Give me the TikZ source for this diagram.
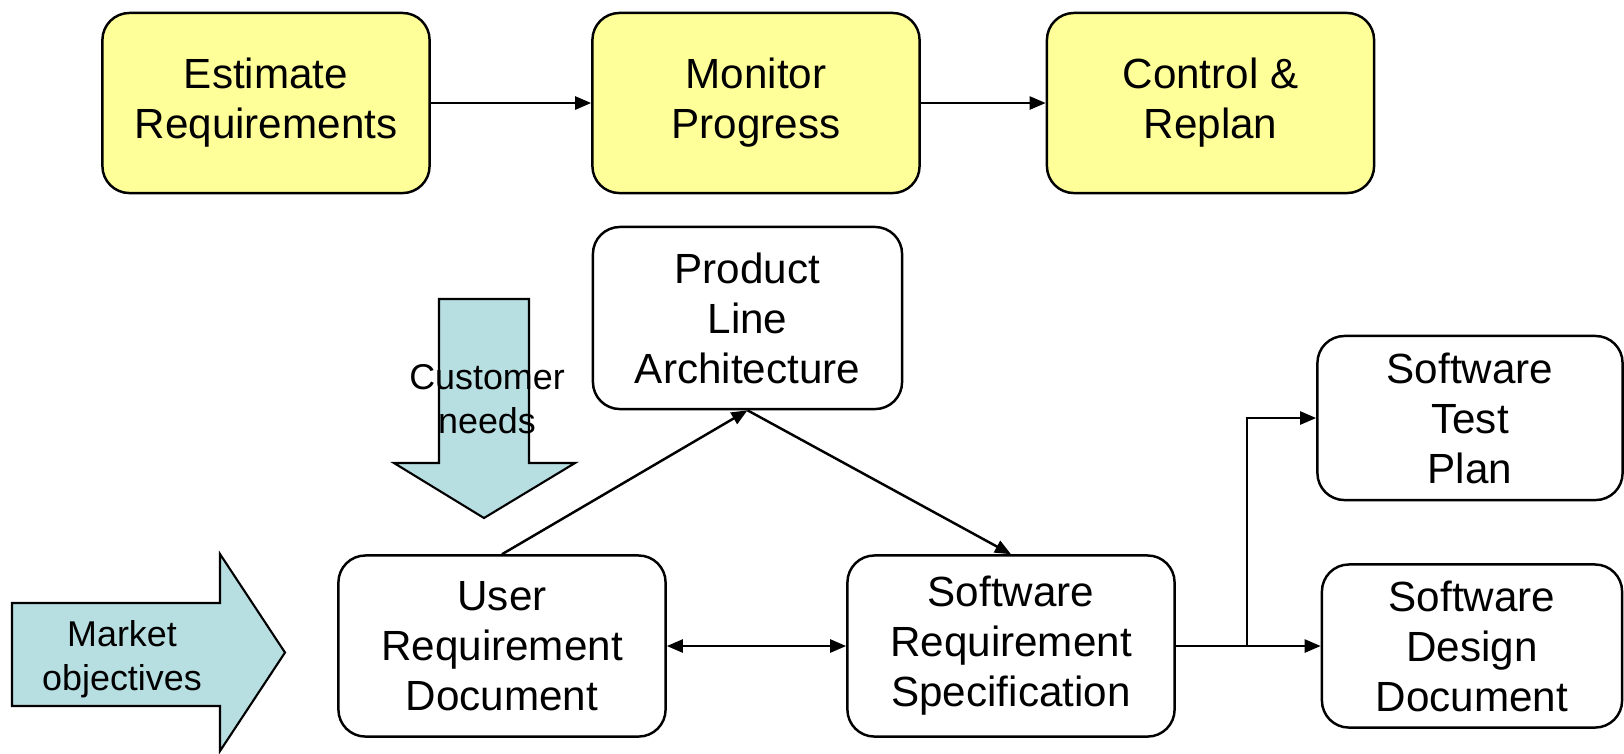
\documentclass[tikz,border=0pt]{standalone}
\usepackage{fontspec}
\setmainfont{Liberation Sans}
\usetikzlibrary{arrows.meta}
\definecolor{planyellow}{HTML}{FFFF99}
\definecolor{inputblue}{HTML}{B7DEE1}

\begin{document}
\begin{tikzpicture}[x=0.01cm,y=-0.01cm,line width=0.7pt,>={Triangle[length=0.16cm,width=0.13cm]},
  box/.style={draw,rounded corners=0.27cm,align=center,inner sep=0pt,
    font=\fontsize{12}{14.2}\selectfont},
  planbox/.style={box,fill=planyellow,minimum width=3.27cm,minimum height=1.8cm},
  docbox/.style={box,fill=white,minimum width=3.27cm,minimum height=1.81cm},
  input/.style={draw,fill=inputblue,line width=0.6pt},
  inlabel/.style={align=center,inner sep=0pt,font=\fontsize{10.2}{12.6}\selectfont}]
\useasboundingbox (0,0) rectangle (1624,753);
% ================= planning cycle =================
\node[planbox] (est) at (266,103) {Estimate\\Requirements};
\node[planbox] (mon) at (756,103) {Monitor\\Progress};
\node[planbox] (ctl) at (1210.5,103) {Control \&\\Replan};
\draw[->] (est) -- (mon);
\draw[->] (mon) -- (ctl);
% ================= documents =================
% ---------- external inputs ----------
\draw[input] (12,603) -- (220,603) -- (220,554) -- (285,652.5) -- (220,751)
  -- (220,706) -- (12,706) -- cycle;
\node[inlabel] (mkt) at (122,659) {Market\\objectives};
\draw[input] (439,299) -- (529,299) -- (529,463) -- (575,463) -- (484,518)
  -- (394,463) -- (439,463) -- cycle;
\node[inlabel] (cust) at (487,399) {Customer\\needs};
% ---------- requirement documents ----------
\node[docbox,minimum width=3.09cm,minimum height=1.82cm] (pla) at (747.5,318) {Product\\Line\\Architecture};
\node[docbox] (urd) at (502,646) {User\\Requirement\\Document};
\node[docbox] (srs) at (1011,646) {Software\\Requirement\\Specification};
\node[docbox,minimum width=3.05cm,minimum height=1.64cm] (stp) at (1470,418) {Software\\Test\\Plan};
\node[docbox,minimum width=3.0cm,minimum height=1.63cm] (sdd) at (1472,646) {Software\\Design\\Document};
\draw[->] (urd.north) -- (pla.south);
\draw[->] (pla.south) -- (srs.north);
\draw[<->] (urd) -- (srs);
% ---------- outputs ----------
\coordinate (fork) at (1247,646);
\draw[->] (srs) -- (sdd);
\draw[->] (fork) |- (stp.west);
\end{tikzpicture}
\end{document}
